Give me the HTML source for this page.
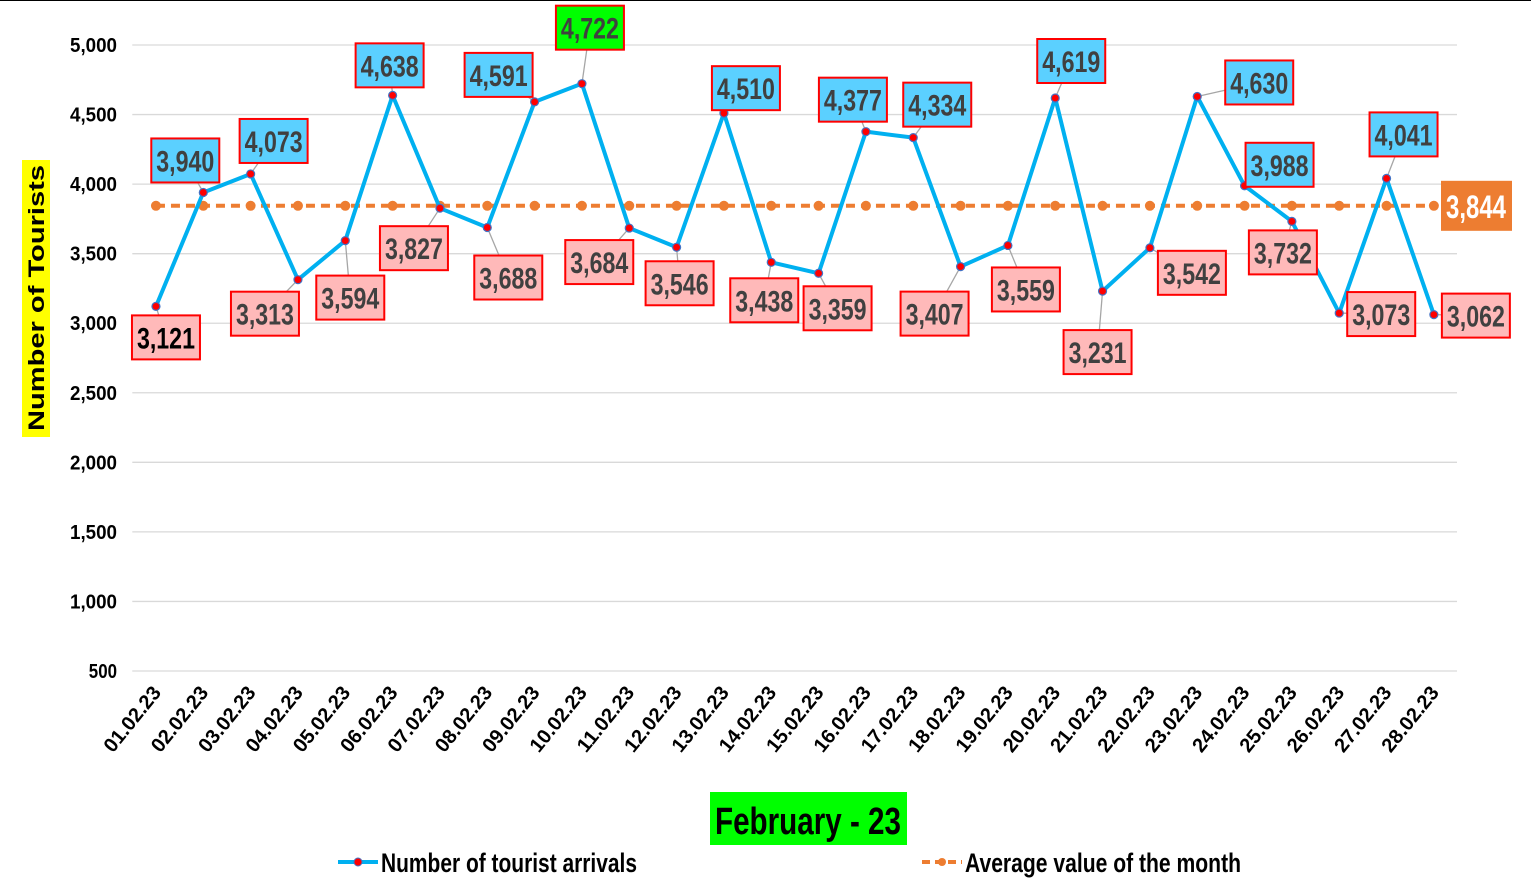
<!DOCTYPE html>
<html><head><meta charset="utf-8"><style>
body{margin:0;background:#fff;}
svg{display:block;font-family:"Liberation Sans",sans-serif;font-weight:bold;}
</style></head><body>
<svg id="chart" width="1531" height="894" viewBox="0 0 1531 894" xmlns="http://www.w3.org/2000/svg">
<line x1="0" y1="0.5" x2="1531" y2="0.5" stroke="#000" stroke-width="1"/>
<g id="grid"></g><g id="leaders"></g><g id="avg"></g><g id="series"></g><g id="labels"></g><g id="ticks"></g>
<g>
<rect x="22" y="160" width="28" height="277" fill="#ffff00"/>
<text transform="translate(44,298) rotate(-90)" text-anchor="middle" font-size="22" textLength="266" lengthAdjust="spacingAndGlyphs" fill="#000">Number of Tourists</text>
</g>
<g>
<rect x="710" y="792" width="197" height="53" fill="#00ff00"/>
<text x="808" y="834" text-anchor="middle" font-size="38" textLength="186" lengthAdjust="spacingAndGlyphs" fill="#000">February - 23</text>
</g>
<g>
<line x1="338" y1="862" x2="378" y2="862" stroke="#00b0f0" stroke-width="4"/>
<circle cx="358" cy="862" r="4" fill="#ff0000" stroke="#4472c4" stroke-width="1"/>
<text x="381" y="872" font-size="27" textLength="256" lengthAdjust="spacingAndGlyphs" fill="#000">Number of tourist arrivals</text>
</g>
<g>
<line x1="922" y1="862" x2="962" y2="862" stroke="#ed7d31" stroke-width="4" stroke-dasharray="8,5"/>
<circle cx="942" cy="862" r="4" fill="#ed7d31"/>
<text x="965" y="872" font-size="27" textLength="276" lengthAdjust="spacingAndGlyphs" fill="#000">Average value of the month</text>
</g>
</svg>
<script>
const categories=["01.02.23","02.02.23","03.02.23","04.02.23","05.02.23","06.02.23","07.02.23","08.02.23","09.02.23","10.02.23","11.02.23","12.02.23","13.02.23","14.02.23","15.02.23","16.02.23","17.02.23","18.02.23","19.02.23","20.02.23","21.02.23","22.02.23","23.02.23","24.02.23","25.02.23","26.02.23","27.02.23","28.02.23"];
const arrivals=[3121,3940,4073,3313,3594,4638,3827,3688,4591,4722,3684,3546,4510,3438,3359,4377,4334,3407,3559,4619,3231,3542,4630,3988,3732,3073,4041,3062];
const averageValue=3844;
const yTicks=[500,1000,1500,2000,2500,3000,3500,4000,4500,5000];
const labelOffsets=[[10,31],[-18,-32],[23,-33],[-33,34],[5,57],[-3,-30],[-26,40],[21,50],[-36,-27],[8,-56],[-30,34],[3,36],[22,-25],[-7,38],[19,35],[-13,-32],[24,-33],[-26,47],[18,44],[16,-37],[-5,61],[42,25],[62,-14],[35,-21],[-9,31],[42,1],[17,-44],[42,1]];
const NS='http://www.w3.org/2000/svg';
const X0=132.3,BW=47.33,Y0=671,YMIN=500,YMAX=5000,YH=626;
const x=i=>X0+BW*(i+0.5);
const y=v=>Y0-(v-YMIN)/(YMAX-YMIN)*YH;
function mk(t,a,p){const e=document.createElementNS(NS,t);for(const k in a)e.setAttribute(k,a[k]);p.appendChild(e);return e;}
const g=id=>document.getElementById(id);
yTicks.forEach(v=>{
 const l=mk('line',{x1:X0,x2:1457,y1:y(v),y2:y(v),stroke:'#d9d9d9','stroke-width':1.3},g('grid'));
 
 
 const s=v.toLocaleString('en-US');
 const t=mk('text',{x:117,y:y(v)+7,'text-anchor':'end','font-size':20,textLength:s.length*9.4,lengthAdjust:'spacingAndGlyphs',fill:'#000'},g('ticks'));
 t.textContent=s;
 
 
});
categories.forEach((c,i)=>{
 const t=mk('text',{transform:`translate(${x(i)+6},${693}) rotate(-51)`,'text-anchor':'end','font-size':20,textLength:78,lengthAdjust:'spacingAndGlyphs',fill:'#000'},g('ticks'));
 t.textContent=c;
 
 
});
const al=mk('line',{x1:x(0),x2:x(categories.length-1),y1:y(averageValue),y2:y(averageValue),stroke:'#ed7d31','stroke-width':4,'stroke-dasharray':'9,6'},g('avg'));


categories.forEach((c,i)=>{
 const d=mk('circle',{cx:x(i),cy:y(averageValue),r:5,fill:'#ed7d31'},g('avg'));
 
 
});
const pl=mk('polyline',{points:arrivals.map((v,i)=>x(i)+','+y(v)).join(' '),fill:'none',stroke:'#00b0f0','stroke-width':4,'stroke-linejoin':'round'},g('series'));


arrivals.forEach((v,i)=>{
 const px=x(i),py=y(v),cx=px+labelOffsets[i][0],cy=py+labelOffsets[i][1];
 const ll=mk('line',{x1:px,y1:py,x2:cx,y2:cy,stroke:'#a6a6a6','stroke-width':1.3},g('leaders'));
 
 
 const m=mk('circle',{cx:px,cy:py,r:4,fill:'#ff0000',stroke:'#4472c4','stroke-width':1.2},g('series'));
 
 
 const isMax=v===Math.max(...arrivals);
 const fill=isMax?'#00ff00':(v>averageValue?'#5bd0ff':'#ffb9b9');
 const gr=mk('g',{},g('labels'));
 
 
 mk('rect',{x:cx-34,y:cy-22,width:68,height:44,fill:fill,stroke:'#ff0000','stroke-width':2},gr);
 const t=mk('text',{x:cx,y:cy+11,'text-anchor':'middle','font-size':30,textLength:58,lengthAdjust:'spacingAndGlyphs',fill:i===0?'#000':'#404040'},gr);
 t.textContent=v.toLocaleString('en-US');
});
const ag=mk('g',{},g('labels'));


mk('rect',{x:1441,y:y(averageValue)-25,width:71,height:50,fill:'#ed7d31'},ag);
const at=mk('text',{x:1476,y:y(averageValue)+12,'text-anchor':'middle','font-size':32,textLength:60,lengthAdjust:'spacingAndGlyphs',fill:'#fff'},ag);
at.textContent=averageValue.toLocaleString('en-US');
</script>
</body></html>
